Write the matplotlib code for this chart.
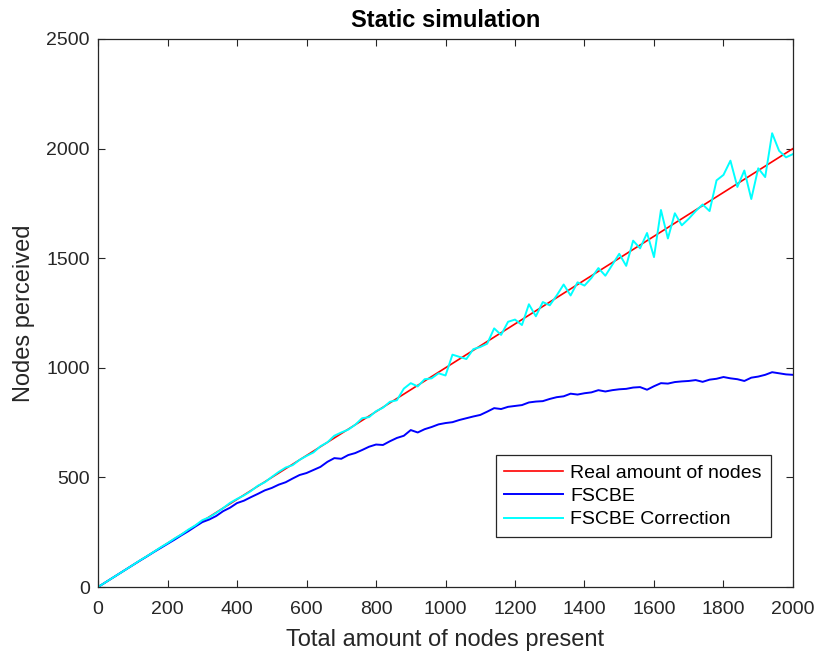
import numpy as np
import matplotlib
matplotlib.use("Agg")
import matplotlib.pyplot as plt

# node counts (x axis), step 20
nodes = np.arange(0, 2001, 20)

# real amount of nodes equals the number present
real_nodes = nodes.copy()

# FSCBE estimate
fscbe = [0, 20, 40, 60, 80, 100, 120, 139, 159, 178,
         197, 216, 236, 255, 276, 296, 308, 324, 346, 362,
         383, 394, 410, 425, 441, 452, 467, 478, 495, 511,
         520, 534, 548, 571, 588, 585, 602, 611, 625, 640,
         650, 648, 665, 680, 690, 716, 705, 720, 730, 742,
         748, 752, 762, 770, 778, 785, 800, 816, 812, 822,
         826, 830, 842, 846, 848, 858, 866, 870, 882, 878,
         884, 888, 898, 892, 898, 902, 904, 910, 912, 900,
         916, 930, 928, 935, 938, 940, 944, 936, 946, 950,
         958, 952, 948, 940, 955, 960, 968, 980, 975, 970,
         968]

# FSCBE with correction
fscbe_corr = [0, 20, 40, 60, 80, 100, 121, 140, 160, 181,
              200, 221, 240, 262, 281, 305, 318, 338, 360, 384,
              402, 418, 438, 462, 478, 502, 525, 545, 556, 580,
              598, 614, 642, 660, 690, 705, 718, 740, 770, 775,
              802, 818, 845, 852, 905, 930, 915, 948, 952, 975,
              965, 1060, 1050, 1040, 1085, 1095, 1110, 1180, 1150, 1210,
              1220, 1195, 1290, 1235, 1300, 1285, 1330, 1380, 1330, 1390,
              1375, 1410, 1455, 1420, 1470, 1520, 1465, 1580, 1545, 1615,
              1505, 1720, 1590, 1705, 1650, 1680, 1715, 1745, 1715, 1855,
              1880, 1945, 1825, 1900, 1770, 1910, 1870, 2070, 1990, 1960,
              1975]

plt.rcParams['font.family'] = ['Liberation Sans', 'DejaVu Sans']

fig = plt.figure(figsize=(8.17, 6.54), dpi=100)
ax = fig.add_axes([0.12, 0.1024, 0.8506, 0.838])

ax.plot(nodes, real_nodes, color='#ff0000', lw=1.2, label='Real amount of nodes')
ax.plot(nodes, fscbe, color='#0000ff', lw=1.4, label='FSCBE')
ax.plot(nodes, fscbe_corr, color='#00ffff', lw=1.4, label='FSCBE Correction')

ax.set_xlim(0, 2000)
ax.set_ylim(0, 2500)
ax.set_xticks(np.arange(0, 2001, 200))
ax.set_yticks(np.arange(0, 2501, 500))
ax.tick_params(direction='in', length=5, width=0.8, top=True, right=True,
               labelsize=14, colors='#262626')
ax.tick_params(axis='x', pad=10)
ax.tick_params(axis='y', pad=6)
for s in ax.spines.values():
    s.set_color('#262626')
    s.set_linewidth(0.9)

ax.set_xlabel('Total amount of nodes present', fontsize=17, color='#262626', labelpad=8)
ax.set_ylabel('Nodes perceived', fontsize=17, color='#262626', labelpad=8)
ax.set_title('Static simulation', fontsize=17, fontweight='bold', pad=8.5)

leg = ax.legend(loc='lower right', bbox_to_anchor=(0.968, 0.091), borderaxespad=0,
                fontsize=14, handlelength=3.0, handletextpad=0.4,
                labelspacing=0.3, fancybox=False, framealpha=1, edgecolor='#262626',
                borderpad=0.45)
leg.get_frame().set_linewidth(0.9)

fig.savefig('out.png', dpi=100)
